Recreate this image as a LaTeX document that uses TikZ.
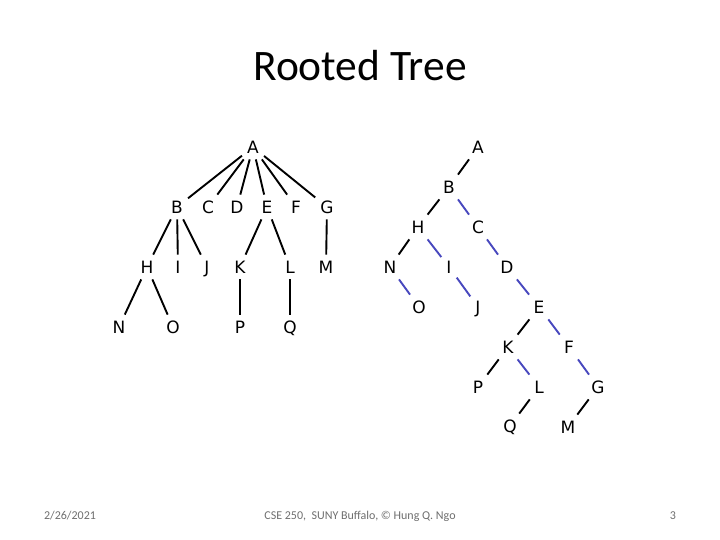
\documentclass[tikz,border=0pt]{standalone}
\usepackage{fontspec}
\setmainfont{Carlito}
\newfontfamily\dejavu{DejaVu Sans}
\definecolor{edgeblue}{RGB}{72,72,190}
\definecolor{footgray}{RGB}{110,110,110}
\begin{document}
\begin{tikzpicture}[x=1pt,y=-1pt,
  lab/.style={font=\dejavu\fontsize{17}{20}\selectfont, text height=12.4pt, text depth=0pt, inner xsep=5pt, inner ysep=6pt},
  edge/.style={line width=1.9pt, black},
  bedge/.style={line width=1.9pt, edgeblue},
  foot/.style={font=\fontsize{12}{14}\selectfont, text=footgray}]
\useasboundingbox (0,0) rectangle (720,540);
\node[font=\fontsize{43.5}{50}\selectfont] (title) at (360,66) {Rooted Tree};
% left tree
\node[lab] (lA) at (253,147) {A};
\node[lab] (lB) at (177,207) {B};
\node[lab] (lC) at (208,207) {C};
\node[lab] (lD) at (237,207) {D};
\node[lab] (lE) at (267,207) {E};
\node[lab] (lF) at (296,207) {F};
\node[lab] (lG) at (327,207) {G};
\node[lab] (lH) at (147,267) {H};
\node[lab] (lI) at (178,267) {I};
\node[lab] (lJ) at (207,267) {J};
\node[lab] (lK) at (240,267) {K};
\node[lab] (lL) at (290,267) {L};
\node[lab] (lM) at (326,267) {M};
\node[lab] (lN) at (119,327) {N};
\node[lab] (lO) at (173,327) {O};
\node[lab] (lP) at (240,327) {P};
\node[lab] (lQ) at (290,327) {Q};
\foreach \c in {B,C,D,E,F,G} \draw[edge] (lA) -- (l\c);
\foreach \c in {H,I,J} \draw[edge] (lB) -- (l\c);
\draw[edge] (lE) -- (lK);
\draw[edge] (lE) -- (lL);
\draw[edge] (lG) -- (lM);
\draw[edge] (lH) -- (lN);
\draw[edge] (lH) -- (lO);
\draw[edge] (lK) -- (lP);
\draw[edge] (lL) -- (lQ);
% right tree
\node[lab] (rA) at (478,147) {A};
\node[lab] (rB) at (449,187) {B};
\node[lab] (rH) at (418,227) {H};
\node[lab] (rC) at (478,227) {C};
\node[lab] (rN) at (390,267) {N};
\node[lab] (rI) at (449,267) {I};
\node[lab] (rD) at (507,267) {D};
\node[lab] (rO) at (419,307) {O};
\node[lab] (rJ) at (478,307) {J};
\node[lab] (rE) at (539,307) {E};
\node[lab] (rK) at (508,347) {K};
\node[lab] (rF) at (569,347) {F};
\node[lab] (rP) at (478,387) {P};
\node[lab] (rL) at (539,387) {L};
\node[lab] (rG) at (598,387) {G};
\node[lab] (rQ) at (510,426) {Q};
\node[lab] (rM) at (568,427) {M};
\draw[edge] (rA) -- (rB);
\draw[edge] (rB) -- (rH);
\draw[edge] (rH) -- (rN);
\draw[edge] (rE) -- (rK);
\draw[edge] (rK) -- (rP);
\draw[edge] (rL) -- (rQ);
\draw[edge] (rG) -- (rM);
\draw[bedge] (rB) -- (rC);
\draw[bedge] (rC) -- (rD);
\draw[bedge] (rD) -- (rE);
\draw[bedge] (rE) -- (rF);
\draw[bedge] (rF) -- (rG);
\draw[bedge] (rH) -- (rI);
\draw[bedge] (rI) -- (rJ);
\draw[bedge] (rN) -- (rO);
\draw[bedge] (rK) -- (rL);
% footer
\node[foot] (date) at (70,516) {2/26/2021};
\node[foot] (credit) at (360,516) {CSE 250,\ \ SUNY Buffalo, © Hung Q. Ngo};
\node[foot] (page) at (673,516) {3};
\end{tikzpicture}
\end{document}
